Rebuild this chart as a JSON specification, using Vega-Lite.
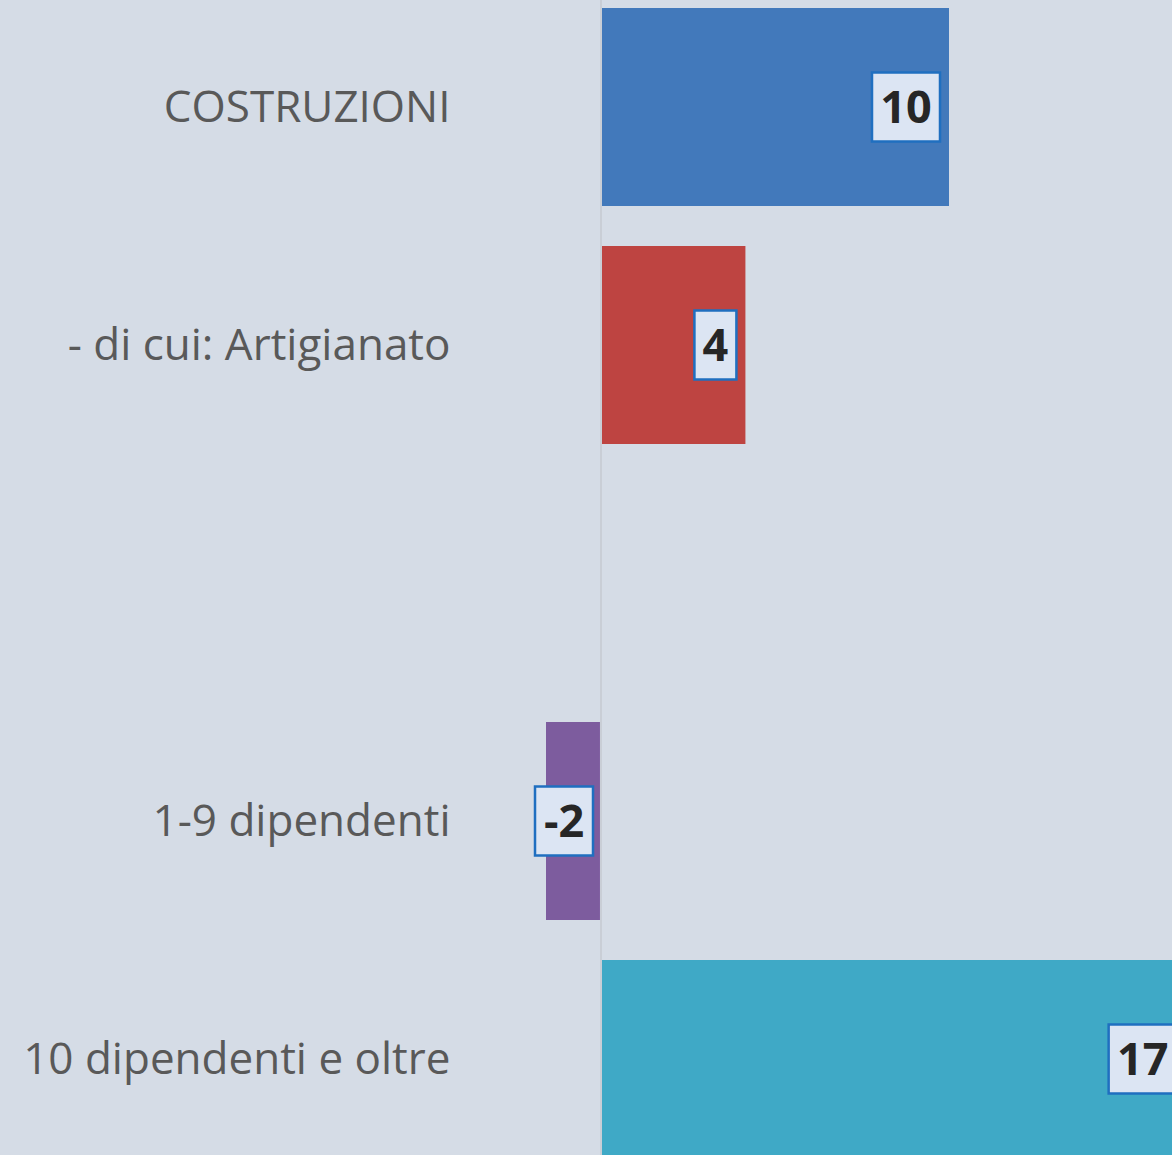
{
  "$schema": "https://vega.github.io/schema/vega-lite/v6.json",
  "autosize": "none",
  "width": 702,
  "height": 1155,
  "padding": {"left": 470, "top": 0, "right": 0, "bottom": 0},
  "background": "#D5DCE6",
  "config": {"view": {"stroke": null}},
  "data": {"values": [
    {"cat": "COSTRUZIONI", "v": 10.0, "label": "10"},
    {"cat": "- di cui: Artigianato", "v": 4.15, "label": "4"},
    {"cat": "1-9 dipendenti", "v": -1.58, "label": "-2"},
    {"cat": "10 dipendenti e oltre", "v": 16.8, "label": "17"}
  ]},
  "encoding": {
    "y": {
      "field": "cat", "type": "nominal",
      "scale": {"domain": ["COSTRUZIONI", "- di cui: Artigianato", "", "1-9 dipendenti", "10 dipendenti e oltre"], "range": [8, 1158], "paddingInner": 0.168, "paddingOuter": 0},
      "axis": {"title": null, "ticks": false, "domain": false, "labelPadding": 20, "labelFont": "Open Sans", "labelFontSize": 44, "labelColor": "#595959", "labelLimit": 0, "labelOffset": 2}
    }
  },
  "layer": [
    {
      "mark": {"type": "bar"},
      "encoding": {
        "x": {"field": "v", "type": "quantitative", "scale": {"domain": [-3.764, 16.408], "nice": false, "zero": false}, "axis": null},
        "color": {"field": "cat", "type": "nominal", "legend": null,
          "scale": {"domain": ["COSTRUZIONI", "- di cui: Artigianato", "1-9 dipendenti", "10 dipendenti e oltre"], "range": ["#4279BB", "#BE4441", "#7D5C9E", "#3FA9C6"]}}
      }
    },
    {
      "mark": {"type": "rule", "color": "#C9CED6", "strokeWidth": 2},
      "encoding": {"x": {"datum": 0, "type": "quantitative"}, "y": {"value": 0}, "y2": {"value": 1155}}
    },
    {
      "mark": {"type": "bar", "height": 69, "fill": "#DCE5F3", "stroke": "#1F6FC0", "strokeWidth": 2.5,
        "xOffset": {"expr": "datum.v < 0 ? -11 : (length(datum.label) == 1 ? -51 : -77)"},
        "x2Offset": {"expr": "datum.v < 0 ? 47 : -9"}},
      "encoding": {
        "x": {"field": "v", "type": "quantitative"},
        "x2": {"field": "v"}
      }
    },
    {
      "mark": {"type": "text", "font": "Open Sans", "fontWeight": "bold", "fontSize": 45, "color": "#262626", "align": "center", "baseline": "middle",
        "dx": {"expr": "datum.v < 0 ? 18 : (length(datum.label) == 1 ? -30 : -43)"}, "dy": 2},
      "encoding": {
        "x": {"field": "v", "type": "quantitative"},
        "text": {"field": "label"}
      }
    }
  ]
}
